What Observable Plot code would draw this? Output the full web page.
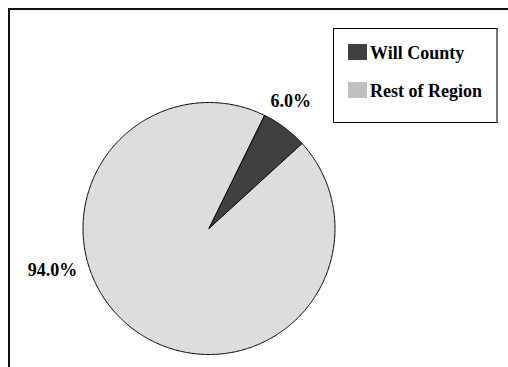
<!DOCTYPE html>
<html><head><meta charset="utf-8">
<script src="https://cdn.jsdelivr.net/npm/d3@7"></script>
<script src="https://cdn.jsdelivr.net/npm/@observablehq/plot@0.6"></script>
<style>
body{margin:0;background:#fff;}
#wrap{position:relative;width:508px;height:367px;overflow:hidden;font-family:"Liberation Serif","Times New Roman",serif;}
#frame{position:absolute;left:8px;top:8px;width:600px;height:500px;border-left:2px solid #111;border-top:2px solid #111;}
#chart{position:absolute;left:0;top:0;}
#legend{position:absolute;left:333px;top:28px;width:165px;height:95px;border:1px solid #000;border-right:2px solid #777;box-sizing:border-box;background:#fff;}
.item{position:absolute;left:14px;height:18px;line-height:18px;font-size:18px;font-weight:bold;color:#000;white-space:nowrap;}
.sw{position:absolute;left:0;width:19px;height:16px;}
.lab{position:absolute;left:22px;top:0;}
</style></head>
<body>
<div id="wrap">
  <div id="frame"></div>
  <div id="chart"></div>
  <div id="legend"></div>
</div>
<script>
const categories = ["Will County", "Rest of Region"];
const shares = [6.0, 94.0];
const labels = ["6.0%", "94.0%"];
const sliceColors = ["#404040", "#dddddd"];
const legendColors = ["#404040", "#c0c0c0"];

const W = 508, H = 367, cx = 208.5, cy = 228, R = 126;
const start = 26 * Math.PI / 180;

const table = categories.map((c, i) => ({category: c, share: shares[i], label: labels[i]}));
const arcs = d3.pie().sort(null).value(d => d.share).startAngle(start).endAngle(start + 2 * Math.PI)(table);

const pts = arcs.flatMap(a => {
  const n = Math.max(4, Math.ceil((a.endAngle - a.startAngle) / 0.01));
  const out = [{cat: a.data.category, x: 0, y: 0}];
  for (let k = 0; k <= n; k++) {
    const t = a.startAngle + (a.endAngle - a.startAngle) * k / n;
    out.push({cat: a.data.category, x: Math.sin(t), y: -Math.cos(t)});
  }
  return out;
});

// label placement (angle in degrees clockwise from top, radius relative to pie)
const labelPlace = {"Will County": {ang: 32.7, r: 1.2}, "Rest of Region": {ang: 255, r: 1.286}};
const labelPts = arcs.map(a => {
  const p = labelPlace[a.data.category];
  const t = p.ang * Math.PI / 180;
  return {text: a.data.label, x: p.r * Math.sin(t), y: -p.r * Math.cos(t)};
});

const chart = Plot.plot({
  width: W, height: H,
  marginTop: 0, marginRight: 0, marginBottom: 0, marginLeft: 0,
  x: {domain: [-cx / R, (W - cx) / R], range: [0, W], axis: null},
  y: {domain: [-cy / R, (H - cy) / R], range: [0, H], axis: null},
  color: {domain: categories, range: sliceColors},
  style: {background: "transparent", overflow: "visible"},
  marks: [
    Plot.line(pts, {x: "x", y: "y", z: "cat", fill: "cat", stroke: "#000", strokeWidth: 1, curve: "linear-closed", strokeLinejoin: "round"}),
    Plot.text(labelPts, {x: "x", y: "y", text: "text", fontSize: 18, fontWeight: "bold", fill: "#000", fontFamily: "Liberation Serif, Times New Roman, serif"})
  ]
});
document.getElementById("chart").appendChild(chart);

const legend = document.getElementById("legend");
categories.forEach((c, i) => {
  const it = document.createElement("div");
  it.className = "item";
  it.style.top = (15 + i * 38) + "px";
  const sw = document.createElement("div");
  sw.className = "sw";
  sw.style.background = legendColors[i];
  sw.style.top = "0px";
  const lb = document.createElement("div");
  lb.className = "lab";
  lb.textContent = c;
  it.appendChild(sw); it.appendChild(lb);
  legend.appendChild(it);
});
</script>
</body></html>
